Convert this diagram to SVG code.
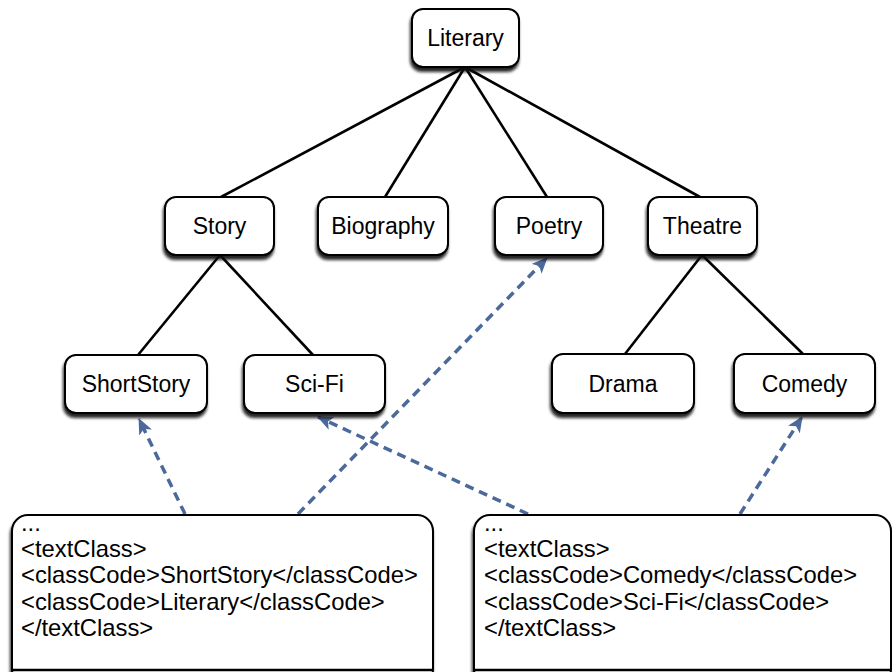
<svg xmlns="http://www.w3.org/2000/svg" width="892" height="672" viewBox="0 0 892 672">
  <defs>
    <filter id="shadow" x="-10%" y="-10%" width="120%" height="130%">
      <feDropShadow dx="-1" dy="4" stdDeviation="1.8" flood-color="#111" flood-opacity="0.9"/>
    </filter>
    <marker id="arrow" viewBox="0 0 16 14" refX="15" refY="7" markerWidth="16" markerHeight="14" markerUnits="userSpaceOnUse" orient="auto">
      <path d="M0,0 L16,7 L0,14 L4,7 Z" fill="#4b6a9b"/>
    </marker>
    <style>
      .node rect { fill: #fff; stroke: #000; stroke-width: 2; filter: url(#shadow); }
      .node text { font-family: "Liberation Sans", Arial, sans-serif; font-size: 23px; fill: #000; text-anchor: middle; }
      .doc rect { fill: #fff; stroke: #000; stroke-width: 2; filter: url(#shadow); }
      .doc text { font-family: "Liberation Sans", Arial, sans-serif; font-size: 23.8px; fill: #000; }
      .tree line { stroke: #000; stroke-width: 2.6; }
      .ref line { stroke: #4b6a9b; stroke-width: 3.5; stroke-dasharray: 9 6; marker-end: url(#arrow); }
    </style>
  </defs>

  <!-- hierarchy edges -->
  <g id="connectors">
    <g class="tree">
      <line x1="465" y1="67" x2="221" y2="197"/>
      <line x1="465" y1="67" x2="385" y2="197"/>
      <line x1="465" y1="67" x2="547" y2="197"/>
      <line x1="465" y1="67" x2="700" y2="197"/>
      <line x1="220" y1="255" x2="138" y2="355"/>
      <line x1="220" y1="255" x2="313" y2="355"/>
      <line x1="702" y1="255" x2="625" y2="354"/>
      <line x1="702" y1="255" x2="803" y2="354"/>
    </g>
    <!-- classCode references from the documents -->
    <g class="ref">
      <line x1="185" y1="514" x2="139" y2="419"/>
      <line x1="298" y1="514" x2="547" y2="258"/>
      <line x1="528" y1="514" x2="318" y2="417"/>
      <line x1="740" y1="514" x2="802" y2="417"/>
    </g>
  </g>

  <g id="literary" class="node">
    <rect x="412" y="9" width="107" height="58" rx="11"/>
    <text x="465.5" y="46">Literary</text>
  </g>
  <g id="story" class="node">
    <rect x="165" y="197" width="109" height="58" rx="11"/>
    <text x="219.5" y="234">Story</text>
  </g>
  <g id="biography" class="node">
    <rect x="318" y="197" width="130" height="58" rx="11"/>
    <text x="383" y="234">Biography</text>
  </g>
  <g id="poetry" class="node">
    <rect x="495" y="197" width="108" height="58" rx="11"/>
    <text x="549" y="234">Poetry</text>
  </g>
  <g id="theatre" class="node">
    <rect x="648" y="197" width="109" height="58" rx="11"/>
    <text x="702.5" y="234">Theatre</text>
  </g>
  <g id="shortstory" class="node">
    <rect x="65" y="355" width="142" height="58" rx="11"/>
    <text x="136" y="392">ShortStory</text>
  </g>
  <g id="scifi" class="node">
    <rect x="244" y="355" width="141" height="58" rx="11"/>
    <text x="314.5" y="392">Sci-Fi</text>
  </g>
  <g id="drama" class="node">
    <rect x="552" y="354" width="142" height="59" rx="11"/>
    <text x="623" y="392">Drama</text>
  </g>
  <g id="comedy" class="node">
    <rect x="734" y="354" width="141" height="59" rx="11"/>
    <text x="804.5" y="392">Comedy</text>
  </g>

  <g id="doc-left" class="doc">
    <rect x="12" y="515" width="421" height="170" rx="16"/>
    <text x="21" y="531">...</text>
    <text x="21" y="557">&lt;textClass&gt;</text>
    <text x="21" y="583">&lt;classCode&gt;ShortStory&lt;/classCode&gt;</text>
    <text x="21" y="610">&lt;classCode&gt;Literary&lt;/classCode&gt;</text>
    <text x="21" y="636">&lt;/textClass&gt;</text>
  </g>
  <g id="doc-right" class="doc">
    <rect x="474" y="515" width="417" height="170" rx="16"/>
    <text x="484" y="531">...</text>
    <text x="484" y="557">&lt;textClass&gt;</text>
    <text x="484" y="583">&lt;classCode&gt;Comedy&lt;/classCode&gt;</text>
    <text x="484" y="610">&lt;classCode&gt;Sci-Fi&lt;/classCode&gt;</text>
    <text x="484" y="636">&lt;/textClass&gt;</text>
  </g>
  <!-- bottom edges of the document panels -->
  <g id="doc-bottoms">
    <line x1="12" y1="670" x2="433" y2="670" stroke="#000" stroke-width="2.5"/>
    <line x1="474" y1="670" x2="891" y2="670" stroke="#000" stroke-width="2.5"/>
  </g>
</svg>
